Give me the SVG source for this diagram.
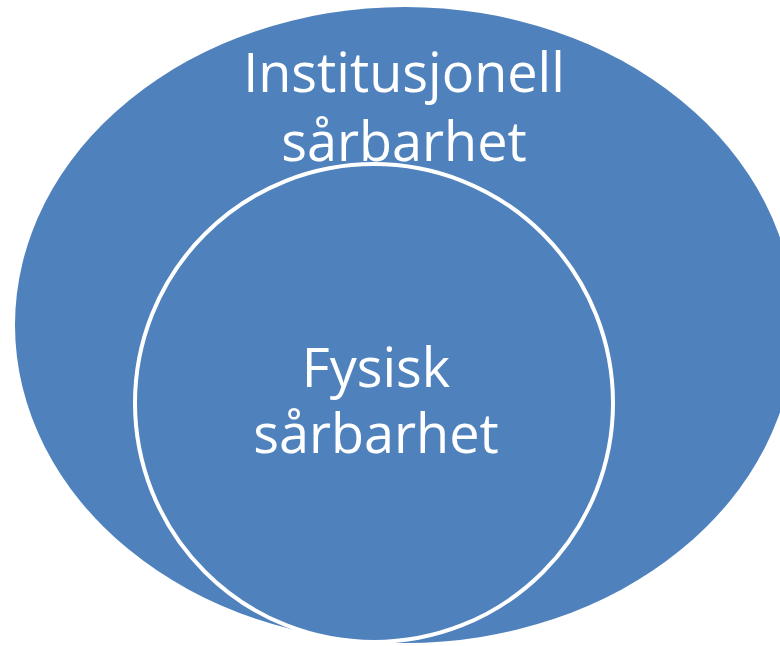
<svg xmlns="http://www.w3.org/2000/svg" width="780" height="646" viewBox="0 0 780 646">
  <style>
    .shape { fill: #4F81BD; }
    .inner { fill: #4F81BD; stroke: #FFFFFF; stroke-width: 4; }
    .label { font-family: "Open Sans", "Liberation Sans", sans-serif; font-size: 54px; fill: #FFFFFF; text-anchor: middle; }
  </style>
  <rect x="0" y="0" width="780" height="646" fill="#FFFFFF"/>
  <g id="institusjonell">
    <ellipse class="shape" cx="405" cy="325" rx="390" ry="318"/>
    <text class="label" x="404" y="92">Institusjonell</text>
    <text class="label" x="404" y="161">sårbarhet</text>
  </g>
  <g id="fysisk">
    <circle class="inner" cx="374" cy="403" r="239"/>
    <text class="label" x="376" y="387">Fysisk</text>
    <text class="label" x="376" y="453">sårbarhet</text>
  </g>
  <g id="connectors"></g>
</svg>
